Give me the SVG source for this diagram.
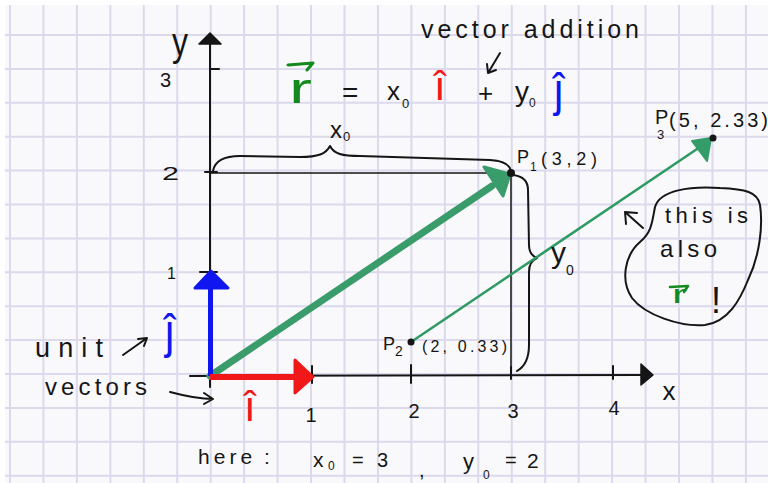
<svg xmlns="http://www.w3.org/2000/svg" width="768" height="483" viewBox="0 0 768 483">
<defs>
<style>
.t{font-family:"Liberation Sans",Arial,sans-serif;fill:#151515}
.ink{fill:none;stroke:#151515;stroke-width:2;stroke-linecap:round;stroke-linejoin:round}
.thin{fill:none;stroke:#151515;stroke-width:1.5}
.grid{fill:none;stroke:#dcd9ec;stroke-width:2}
.g{fill:#148a1e}
.r{fill:#f01818}
.b{fill:#1016f0}
</style>
</defs>
<rect width="768" height="483" fill="#ffffff"/>
<rect x="5" y="5" width="763" height="478" fill="#f9f9fb"/>
<g id="grid">
<path class="grid" d="M10,5V483M43.45,5V483M76.9,5V483M110.35,5V483M143.8,5V483M177.25,5V483M210.7,5V483M244.15,5V483M277.6,5V483M311.05,5V483M344.5,5V483M377.95,5V483M411.4,5V483M444.85,5V483M478.3,5V483M511.75,5V483M545.2,5V483M578.65,5V483M612.1,5V483M645.55,5V483M679,5V483M712.45,5V483M745.9,5V483M5,35H768M5,68.9H768M5,102.8H768M5,136.7H768M5,170.6H768M5,204.5H768M5,238.4H768M5,272.3H768M5,306.2H768M5,340.1H768M5,374H768M5,407.9H768M5,441.8H768M5,475.7H768"/>
</g>
<g id="axes">
<path class="ink" d="M210,42V387M190,376L642,375"/>
<path d="M199,44L210,33L221,44Z" fill="#151515" stroke="#151515" stroke-linejoin="round" stroke-width="1.5"/>
<path d="M641,364L653,375L641,385Z" fill="#151515" stroke="#151515" stroke-linejoin="round" stroke-width="1.5"/>
<path class="ink" d="M312,366V383M411,365V383M511,367V379M613,366V379M200,272H217M210,69H219"/>
<path class="ink" stroke-width="3" d="M205,172H217"/>
<text class="t" x="172" y="56" font-size="40" textLength="16" lengthAdjust="spacingAndGlyphs">y</text>
<text class="t" x="160" y="87" font-size="20">3</text>
<text class="t" x="162" y="180" font-size="19" textLength="17" lengthAdjust="spacingAndGlyphs">2</text>
<text class="t" x="167" y="279" font-size="16">1</text>
<text class="t" x="311" y="422" font-size="20" text-anchor="middle">1</text>
<text class="t" x="414" y="418" font-size="20" text-anchor="middle">2</text>
<text class="t" x="513" y="418" font-size="20" text-anchor="middle">3</text>
<text class="t" x="614" y="415" font-size="20" text-anchor="middle">4</text>
<text class="t" x="669" y="400" font-size="26" text-anchor="middle">x</text>
</g>
<g id="connectors">
<path class="thin" d="M210,173H511V376"/>
<path class="ink" d="M213,171C215,160 225,156 240,156L300,157C318,157 326,154 330,146C334,154 342,156 360,156L490,160C505,161 510,165 511,171"/>
<path class="ink" d="M513,175C522,176 528,180 528,190L529,245C529,252 532,256 537,258C532,260 529,264 529,272L529,345C529,360 524,367 517,371"/>
<path d="M411,342L700,147" stroke="#2f9a63" stroke-width="2.6" fill="none"/>
<path d="M692,141L711,138L707,161Z" fill="#349c69" stroke="#349c69" stroke-width="2" stroke-linejoin="round"/>
<path d="M210,376L492,186" stroke="#3a9b6b" stroke-width="7" fill="none" stroke-linecap="round"/>
<path d="M484,167L510,174L503,196Z" fill="#3a9b6b" stroke="#3a9b6b" stroke-width="3" stroke-linejoin="round"/>
<path d="M210.5,376V287" stroke="#1016f0" stroke-width="5" fill="none"/>
<path d="M195,288L211,271L228,288Z" fill="#1016f0" stroke="#1016f0" stroke-width="3" stroke-linejoin="round"/>
<path d="M210,377H297" stroke="#f01818" stroke-width="6" fill="none"/>
<path d="M295,360L313,377L295,393Z" fill="#f01818" stroke="#f01818" stroke-width="3" stroke-linejoin="round"/>
<path class="ink" d="M500,53L488,73M487,64L488,73L496,70"/>
<path class="ink" d="M123,355L147,338M138,339L147,338L144,346"/>
<path class="ink" d="M170,392C185,396 200,399 213,399M204,393L213,399L204,404"/>
<path class="ink" d="M643,228L625,212M626,224L625,212L637,213"/>
</g>
<g id="points">
<circle cx="511" cy="173" r="4" fill="#151515"/>
<circle cx="411" cy="342" r="3.5" fill="#151515"/>
<circle cx="713" cy="138" r="3.5" fill="#151515"/>
</g>
<g id="equation">
<text class="t" x="421" y="38" font-size="25" textLength="218" lengthAdjust="spacing">vector addition</text>
<text class="t g" x="289" y="103" font-size="42" textLength="23" lengthAdjust="spacingAndGlyphs">r</text>
<path d="M288,65L313,63L307,70" stroke="#148a1e" stroke-width="3" fill="none" stroke-linecap="round" stroke-linejoin="round"/>
<text class="t" x="342" y="102" font-size="28">=</text>
<text class="t" x="387" y="100" font-size="26">x<tspan x="402" y="108" font-size="13">0</tspan></text>
<text class="t r" transform="translate(434,100) scale(1.4,1.35)" font-size="30">î</text>
<text class="t" x="478" y="102" font-size="26">+</text>
<text class="t" x="515" y="101" font-size="28">y<tspan x="529" y="107" font-size="12">0</tspan></text>
<text class="t b" transform="translate(554,106) scale(1.3,1.45)" font-size="32">ĵ</text>
</g>
<g id="labels">
<text class="t" x="330" y="138" font-size="24">x<tspan x="343" y="141" font-size="13">0</tspan></text>
<text class="t" x="517" y="163" font-size="18">P<tspan x="530" y="171" font-size="12">1</tspan><tspan x="541" y="165" textLength="56" lengthAdjust="spacing">(3,2)</tspan></text>
<text class="t" x="655" y="124" font-size="20">P</text>
<text class="t" x="657" y="139" font-size="13">3</text>
<text class="t" x="669" y="127" font-size="20" textLength="99" lengthAdjust="spacing">(5, 2.33)</text>
<text class="t" x="551" y="263" font-size="30">y<tspan x="566" y="275" font-size="14">0</tspan></text>
<text class="t" x="383" y="350" font-size="18">P<tspan x="395" y="356" font-size="14">2</tspan><tspan x="422" y="352" font-size="16" textLength="85" lengthAdjust="spacing">(2, 0.33)</tspan></text>
</g>
<g id="unit-vectors">
<text class="t" x="35" y="357" font-size="27" textLength="68" lengthAdjust="spacing">unit</text>
<text class="t b" transform="translate(165,348) scale(1.3,1.5)" font-size="32">ĵ</text>
<text class="t" x="45" y="395" font-size="24" textLength="102" lengthAdjust="spacing">vectors</text>
<text class="t r" transform="translate(244,421) scale(1.4,1.4)" font-size="30">î</text>
</g>
<g id="note">
<path class="ink" d="M655,207C660,190 690,186 720,188C745,189 758,192 760,205C763,225 760,255 748,280C740,300 728,322 705,325C680,327 645,315 632,298C620,280 625,255 640,242C652,232 652,222 655,207Z"/>
<text class="t" x="665" y="223" font-size="22" textLength="83" lengthAdjust="spacing">this is</text>
<text class="t" x="660" y="257" font-size="24" textLength="57" lengthAdjust="spacing">also</text>
<text class="t g" x="672" y="303" font-size="26" textLength="15" lengthAdjust="spacingAndGlyphs">r</text>
<path d="M670,287L688,286L684,292" stroke="#148a1e" stroke-width="2.5" fill="none" stroke-linecap="round" stroke-linejoin="round"/>
<text class="t" x="716" y="313" font-size="36" text-anchor="middle">!</text>
</g>
<g id="footer">
<text class="t" x="198" y="464" font-size="21" textLength="64" lengthAdjust="spacing">here<tspan x="264">:</tspan></text>
<text class="t" x="313" y="467" font-size="21">x<tspan x="328" y="470" font-size="12">0</tspan><tspan x="352" y="467" font-size="20">=</tspan><tspan x="377" y="467" font-size="20">3</tspan></text>
<text class="t" x="419" y="477" font-size="20">,</text>
<text class="t" x="463" y="469" font-size="22">y<tspan x="483" y="479" font-size="12">0</tspan><tspan x="505" y="467" font-size="20">=</tspan><tspan x="527" y="468" font-size="21">2</tspan></text>
</g>
</svg>
